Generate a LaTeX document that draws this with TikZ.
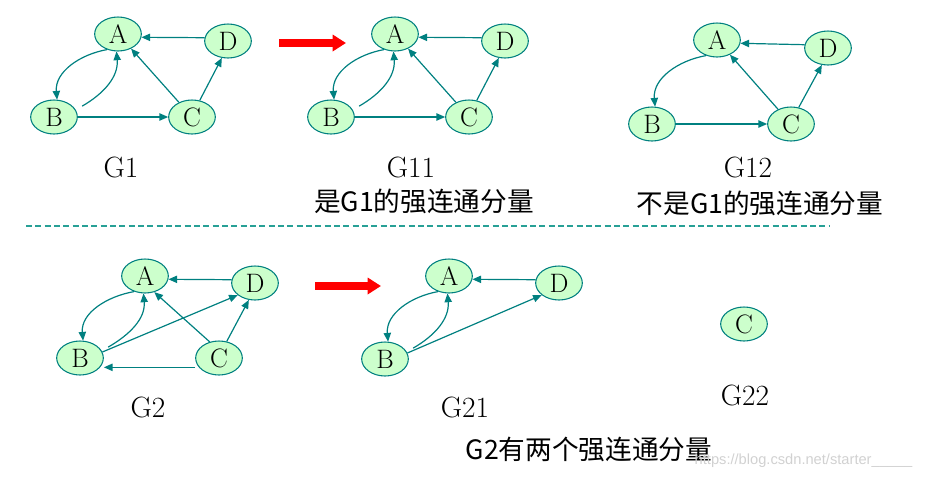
\documentclass[tikz,border=0pt]{standalone}
\usepackage{fontspec}
\newfontfamily\cjk{Noto Sans CJK SC}
\newfontfamily\wmfont{Liberation Sans}
\usetikzlibrary{arrows.meta,shapes.geometric}
\definecolor{edgeteal}{RGB}{0,128,128}
\definecolor{dashteal}{RGB}{40,160,150}
\definecolor{nodegreen}{RGB}{204,255,204}
\definecolor{arrowred}{RGB}{255,0,0}
\tikzset{%
  vertex/.style={ellipse, draw=edgeteal, fill=nodegreen, thick,
    minimum width=35pt, minimum height=25.5pt, inner sep=0pt,
    font=\fontsize{20}{20}\selectfont},% graph vertex
  edge/.style={draw=edgeteal, line width=0.9pt,
    -{Triangle[length=6.5pt,width=5.5pt]}},% directed edge
  caption/.style={font=\fontsize{22}{22}\selectfont},% G1, G11, ...
  note/.style={font=\cjk\fontsize{20}{20}\selectfont},% chinese remarks
  bigarrow/.style={draw=arrowred, line width=5.5pt,
    -{Triangle[length=10pt,width=12pt]}}
}
\begin{document}
\begin{tikzpicture}[x=0.75pt,y=0.75pt]
\useasboundingbox (0,0) rectangle (933,-479);

% G1
\node[vertex] (a1) at (118,-34) {A};
\node[vertex] (d1) at (228,-41) {D};
\node[vertex] (b1) at (54,-117) {B};
\node[vertex] (c1) at (192,-117) {C};
\draw[edge] (a1.235) to[out=190,in=95] (b1.80);
\draw[edge] ([xshift=7pt]b1.30) to[out=30,in=-85] (a1.-95);
\draw[edge] (d1.172) -- (a1.-8);
\draw[edge] (c1) -- (a1);
\draw[edge] (c1.65) -- (d1.250);
\draw[edge] (b1.east) -- (c1.west);
\node[caption] (g1) at (121,-167) {G1};

% G11
\coordinate (r1s) at (279,-43);
\coordinate (r1e) at (346,-43);
\draw[bigarrow] (r1s) -- (r1e);
\node[vertex] (a11) at (395,-34) {A};
\node[vertex] (d11) at (505,-41) {D};
\node[vertex] (b11) at (331,-117) {B};
\node[vertex] (c11) at (469,-117) {C};
\draw[edge] (a11.235) to[out=190,in=95] (b11.80);
\draw[edge] ([xshift=7pt]b11.30) to[out=30,in=-85] (a11.-95);
\draw[edge] (d11.172) -- (a11.-8);
\draw[edge] (c11) -- (a11);
\draw[edge] (c11.65) -- (d11.250);
\draw[edge] (b11.east) -- (c11.west);
\node[caption] (g11) at (411,-167) {G11};
\node[note] (n11) at (424,-201) {是G1的强连通分量};

% G12
\node[vertex] (a12) at (717,-40) {A};
\node[vertex] (d12) at (828,-48) {D};
\node[vertex] (b12) at (652,-124) {B};
\node[vertex] (c12) at (791,-124) {C};
\draw[edge] (a12.235) to[out=190,in=95] (b12.80);
\draw[edge] (d12.172) -- (a12.-8);
\draw[edge] (c12) -- (a12);
\draw[edge] (c12.65) -- (d12.250);
\draw[edge] (b12.east) -- (c12.west);
\node[caption] (g12) at (748,-167) {G12};
\node[note] (n12) at (760,-203) {不是G1的强连通分量};

% separator
\coordinate (sepl) at (26,-226);
\coordinate (sepr) at (830,-226);
\draw[dashteal, line width=1.3pt, dash pattern=on 4.5pt off 2.5pt] (sepl) -- (sepr);

% G2
\node[vertex] (a2) at (145,-276) {A};
\node[vertex] (d2) at (255,-283) {D};
\node[vertex] (b2) at (80,-358) {B};
\node[vertex] (c2) at (219,-358) {C};
\draw[edge] (a2.235) to[out=190,in=95] (b2.80);
\draw[edge] ([xshift=7pt]b2.30) to[out=30,in=-85] (a2.-95);
\draw[edge] (d2.172) -- (a2.-8);
\draw[edge] (c2.120) -- (a2.-60);
\draw[edge] (c2.65) -- (d2.250);
\draw[edge] (b2.15) -- (d2.215);
\draw[edge] ([yshift=-7pt]c2.west) -- ([yshift=-7pt]b2.east);
\node[caption] (g2) at (148,-407) {G2};

% G21 and G22
\coordinate (r2s) at (315,-286);
\coordinate (r2e) at (381,-286);
\draw[bigarrow] (r2s) -- (r2e);
\node[vertex] (a21) at (449,-276) {A};
\node[vertex] (d21) at (559,-283) {D};
\node[vertex] (b21) at (385,-359) {B};
\draw[edge] (a21.235) to[out=190,in=95] (b21.80);
\draw[edge] ([xshift=7pt]b21.30) to[out=30,in=-85] (a21.-95);
\draw[edge] (d21.172) -- (a21.-8);
\draw[edge] (b21.15) -- (d21.215);
\node[caption] (g21) at (465,-407) {G21};
\node[vertex] (c22) at (744,-324) {C};
\node[caption] (g22) at (745,-395) {G22};
\node[note] (n2) at (589,-449) {G2有两个强连通分量};

\node[font=\wmfont\fontsize{11}{11}\selectfont, text=black!18, anchor=west] (wm) at (690,-461) {https://blog.csdn.net/starter\_\_\_\_\_};
\end{tikzpicture}
\end{document}
